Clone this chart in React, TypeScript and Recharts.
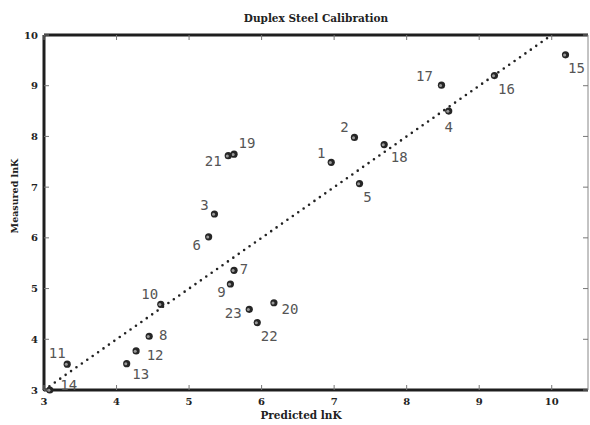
import React from 'react';
import { ScatterChart, Scatter, XAxis, YAxis, ReferenceLine } from 'recharts';

// Sample numbers and their predicted / measured lnK values
const SAMPLE_IDS = [1, 2, 3, 4, 5, 6, 7, 8, 9, 10, 11, 12, 13, 14, 15, 16, 17, 18, 19, 20, 21, 22, 23];
const PREDICTED = [6.96, 7.28, 5.35, 8.58, 7.35, 5.27, 5.62, 4.45, 5.57, 4.61, 3.32, 4.27, 4.14, 3.08, 10.19, 9.21, 8.48, 7.69, 5.62, 6.17, 5.54, 5.94, 5.83];
const MEASURED = [7.49, 7.98, 6.47, 8.5, 7.07, 6.02, 5.36, 4.06, 5.09, 4.69, 3.51, 3.77, 3.52, 3.0, 9.61, 9.2, 9.01, 7.84, 7.65, 4.72, 7.62, 4.33, 4.59];

// 1:1 calibration line
const FIT_X = [3, 10];
const FIT_Y = [3, 10];

const X_DOMAIN = [3, 10.5];
const Y_DOMAIN = [3, 10];
const X_TICKS = [3, 4, 5, 6, 7, 8, 9, 10];
const Y_TICKS = [3, 4, 5, 6, 7, 8, 9, 10];

// where each sample number sits relative to its marker (px)
const LABEL_OFFSET: Record<number, [number, number]> = {
  1: [-10, -9], 2: [-10, -10], 3: [-10, -9], 4: [0, 16], 5: [8, 13],
  6: [-12, 8], 7: [10, -1], 8: [14, -1], 9: [-9, 8], 10: [-11, -10],
  11: [-10, -11], 12: [19, 4], 13: [14, 10], 14: [19, -5], 15: [11, 13],
  16: [12, 13], 17: [-17, -9], 18: [15, 12], 19: [13, -11], 20: [16, 6],
  21: [-15, 5], 22: [12, 13], 23: [-16, 4],
};

const points = SAMPLE_IDS.map((id, i) => ({ id, x: PREDICTED[i], y: MEASURED[i] }));

const SERIF = '"DejaVu Serif", serif';
const FRAME = '#1e1e1e';

const Marker = (props: any) => {
  const { cx, cy, payload } = props;
  const [dx, dy] = LABEL_OFFSET[payload.id] || [10, 0];
  return (
    <g>
      <circle cx={cx} cy={cy} r={3.6} fill="#262626" />
      <circle cx={cx - 0.9} cy={cy + 0.2} r={1.5} fill="#9a9a9a" />
      <text
        x={cx + dx}
        y={cy + dy}
        textAnchor="middle"
        dominantBaseline="central"
        fontFamily='"DejaVu Sans Mono", monospace'
        fontSize={14}
        fill="#555"
      >
        {payload.id}
      </text>
    </g>
  );
};

const Hidden = () => <g />;

const BottomTick = (props: any) => {
  const { x, y, payload } = props;
  const axisY = y - 11;
  return (
    <g>
      <line x1={x} x2={x} y1={axisY} y2={axisY - 5} stroke="#777" />
      <text x={x} y={y} textAnchor="middle" dominantBaseline="central" fontFamily={SERIF} fontWeight="bold" fontSize={10} fill="#222">
        {payload.value}
      </text>
    </g>
  );
};

const TopTick = (props: any) => {
  const { x, y } = props;
  return <line x1={x} x2={x} y1={y} y2={y + 5} stroke="#777" />;
};

const LeftTick = (props: any) => {
  const { x, y, payload } = props;
  const axisX = x + 6;
  return (
    <g>
      <line x1={axisX} x2={axisX + 5} y1={y} y2={y} stroke="#777" />
      <text x={x} y={y} textAnchor="end" dominantBaseline="central" fontFamily={SERIF} fontWeight="bold" fontSize={10} fill="#222">
        {payload.value}
      </text>
    </g>
  );
};

const RightTick = (props: any) => {
  const { x, y } = props;
  return <line x1={x} x2={x - 5} y1={y} y2={y} stroke="#777" />;
};

export default function App() {
  const textStyle: React.CSSProperties = {
    position: 'absolute',
    fontFamily: SERIF,
    fontWeight: 'bold',
    color: '#222',
    whiteSpace: 'nowrap',
    lineHeight: 1,
  };
  return (
    <div style={{ position: 'absolute', left: 0, top: 0, width: 590, height: 425, background: '#fff' }}>
      <ScatterChart width={590} height={425} margin={{ top: 34, right: 1, bottom: 0, left: 0 }}>
        <XAxis
          dataKey="x"
          type="number"
          domain={X_DOMAIN}
          ticks={X_TICKS}
          height={35}
          tickSize={0}
          tickMargin={11}
          axisLine={false}
          tick={<BottomTick />}
        />
        <XAxis
          xAxisId="top"
          dataKey="x"
          orientation="top"
          type="number"
          domain={X_DOMAIN}
          ticks={X_TICKS}
          height={1}
          tickSize={0}
          tickMargin={0}
          axisLine={false}
          tick={<TopTick />}
        />
        <YAxis
          dataKey="y"
          type="number"
          domain={Y_DOMAIN}
          ticks={Y_TICKS}
          width={44}
          tickSize={0}
          tickMargin={6}
          axisLine={false}
          tick={<LeftTick />}
        />
        <YAxis
          yAxisId="right"
          dataKey="y"
          orientation="right"
          type="number"
          domain={Y_DOMAIN}
          ticks={Y_TICKS}
          width={1}
          tickSize={0}
          tickMargin={0}
          axisLine={false}
          tick={<RightTick />}
        />
        {/* frame */}
        <ReferenceLine y={Y_DOMAIN[0]} stroke={FRAME} strokeWidth={3} />
        <ReferenceLine y={Y_DOMAIN[1]} stroke={FRAME} strokeWidth={3} />
        <ReferenceLine x={X_DOMAIN[0]} stroke={FRAME} strokeWidth={3} />
        <ReferenceLine x={X_DOMAIN[1]} stroke="#888" strokeWidth={1} />
        <ReferenceLine
          segment={[
            { x: FIT_X[0], y: FIT_Y[0] },
            { x: FIT_X[1], y: FIT_Y[1] },
          ]}
          stroke="#222"
          strokeWidth={2.6}
          strokeDasharray="0 6.6"
          strokeLinecap="round"
        />
        <Scatter data={points} xAxisId="top" yAxisId="right" shape={<Hidden />} isAnimationActive={false} />
        <Scatter data={points} shape={<Marker />} isAnimationActive={false} />
      </ScatterChart>
      <div style={{ ...textStyle, left: 316, top: 18, fontSize: 10.5, transform: 'translate(-50%, -50%)' }}>
        Duplex Steel Calibration
      </div>
      <div style={{ ...textStyle, left: 301, top: 415, fontSize: 10.5, transform: 'translate(-50%, -50%)' }}>
        Predicted lnK
      </div>
      <div style={{ ...textStyle, left: 15, top: 196, fontSize: 9.5, transform: 'translate(-50%, -50%) rotate(-90deg)' }}>
        Measured lnK
      </div>
    </div>
  );
}
